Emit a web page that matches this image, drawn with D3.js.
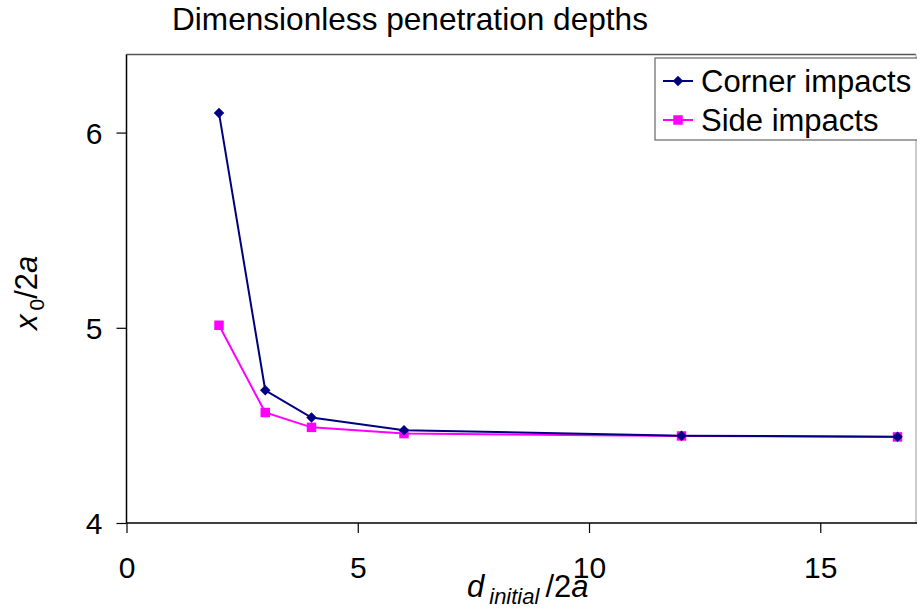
<!DOCTYPE html>
<html>
<head>
<meta charset="utf-8">
<title>Dimensionless penetration depths</title>
<script src="https://cdn.jsdelivr.net/npm/d3@7"></script>
<style>
  body { margin: 0; background: #fff; }
  text { font-family: "Liberation Sans", Arial, sans-serif; }
</style>
</head>
<body>
<script>
// values
var xValues = [2, 3, 4, 6, 12, 16.67];
var cornerImpacts = [6.10, 4.68, 4.54, 4.475, 4.447, 4.442];
var sideImpacts = [5.013, 4.566, 4.49, 4.458, 4.446, 4.441];
var seriesNames = ["Corner impacts", "Side impacts"];
var xTicks = [0, 5, 10, 15];
var yTicks = [4, 5, 6];

var width = 917, height = 610;
var plotLeft = 126.5, plotRight = 916, plotTop = 54.5, plotBottom = 523;

var svg = d3.select("body").append("svg")
    .attr("width", width)
    .attr("height", height);

var x = d3.scaleLinear().domain([0, 17.07]).range([plotLeft, plotRight]);
var y = d3.scaleLinear().domain([4, 6.4]).range([plotBottom, plotTop]);

// plot area border (top and right are grey)
svg.append("line").attr("x1", plotLeft).attr("x2", plotRight).attr("y1", plotTop).attr("y2", plotTop)
    .attr("stroke", "#555").attr("stroke-width", 1.5);
svg.append("line").attr("x1", plotRight).attr("x2", plotRight).attr("y1", plotTop).attr("y2", plotBottom)
    .attr("stroke", "#bbb").attr("stroke-width", 1.5);

// axes
var xAxis = d3.axisBottom(x).tickValues(xTicks).tickSize(10).tickPadding(24)
    .tickFormat(d3.format("d"));
var yAxis = d3.axisLeft(y).tickValues(yTicks).tickSize(10).tickPadding(14)
    .tickFormat(d3.format("d"));

var gx = svg.append("g").attr("transform", "translate(0," + plotBottom + ")").call(xAxis);
var gy = svg.append("g").attr("transform", "translate(" + plotLeft + ",0)").call(yAxis);

[gx, gy].forEach(function (g) {
    g.select(".domain").attr("stroke", "#000").attr("stroke-width", 1.5)
        .attr("d", g === gx ? "M" + plotLeft + ",0H" + (plotRight + 2) : "M0," + plotTop + "V" + plotBottom);
    g.selectAll(".tick line").attr("stroke", "#000").attr("stroke-width", 1.2);
    g.selectAll(".tick text").attr("fill", "#000")
        .style("font-size", "30px")
        .style("font-family", "'Liberation Sans', Arial, sans-serif");
});
gy.selectAll(".tick text").attr("dy", "0.36em");

// lines and markers
var line = d3.line()
    .x(function (d, i) { return x(xValues[i]); })
    .y(function (d) { return y(d); });

svg.append("path").datum(sideImpacts).attr("d", line)
    .attr("fill", "none").attr("stroke", "#ff00ff").attr("stroke-width", 2);
svg.append("path").datum(cornerImpacts).attr("d", line)
    .attr("fill", "none").attr("stroke", "#000080").attr("stroke-width", 2);

var diamond = d3.symbol().type(d3.symbolDiamond2).size(70);
var square = d3.symbol().type(d3.symbolSquare).size(90);

svg.selectAll(".side").data(sideImpacts).enter().append("path")
    .attr("class", "side")
    .attr("d", square)
    .attr("transform", function (d, i) { return "translate(" + x(xValues[i]) + "," + y(d) + ")"; })
    .attr("fill", "#ff00ff");

svg.selectAll(".corner").data(cornerImpacts).enter().append("path")
    .attr("class", "corner")
    .attr("d", diamond)
    .attr("transform", function (d, i) { return "translate(" + x(xValues[i]) + "," + y(d) + ")"; })
    .attr("fill", "#000080");

// title
svg.append("text").attr("x", 172).attr("y", 30)
    .style("font-size", "31.6px").text("Dimensionless penetration depths");

// x axis label: d_initial/2a
var xl = svg.append("text").attr("x", 467).attr("y", 597).style("font-size", "31px");
xl.append("tspan").style("font-style", "italic").text("d");
xl.append("tspan").style("font-style", "italic").style("font-size", "22px")
    .attr("dx", 5).attr("dy", 7).text("initial");
xl.append("tspan").attr("dx", 6).attr("dy", -7).text("/2");
xl.append("tspan").style("font-style", "italic").text("a");

// y axis label: x_0/2a
var yl = svg.append("text")
    .attr("transform", "translate(37,330) rotate(-90)")
    .style("font-size", "31px");
yl.append("tspan").style("font-style", "italic").text("x");
yl.append("tspan").style("font-size", "21px").attr("dx", 4).attr("dy", 7).text("0");
yl.append("tspan").attr("dy", -7).text("/2");
yl.append("tspan").style("font-style", "italic").text("a");

// legend
var legend = svg.append("g");
legend.append("rect").attr("x", 655).attr("y", 58).attr("width", 280).attr("height", 82)
    .attr("fill", "#fff").attr("stroke", "#666").attr("stroke-width", 1.2);

var rows = legend.selectAll(".row").data(seriesNames).enter().append("g")
    .attr("transform", function (d, i) { return "translate(0," + (81 + i * 39) + ")"; });
rows.append("line").attr("x1", 663).attr("x2", 693)
    .attr("stroke", function (d, i) { return i === 0 ? "#000080" : "#ff00ff"; })
    .attr("stroke-width", 2);
rows.append("path")
    .attr("d", function (d, i) { return i === 0 ? diamond() : square(); })
    .attr("transform", "translate(678,0)")
    .attr("fill", function (d, i) { return i === 0 ? "#000080" : "#ff00ff"; });
rows.append("text").attr("x", 701).attr("dy", "0.36em")
    .style("font-size", "31px").text(function (d) { return d; });
</script>
</body>
</html>
